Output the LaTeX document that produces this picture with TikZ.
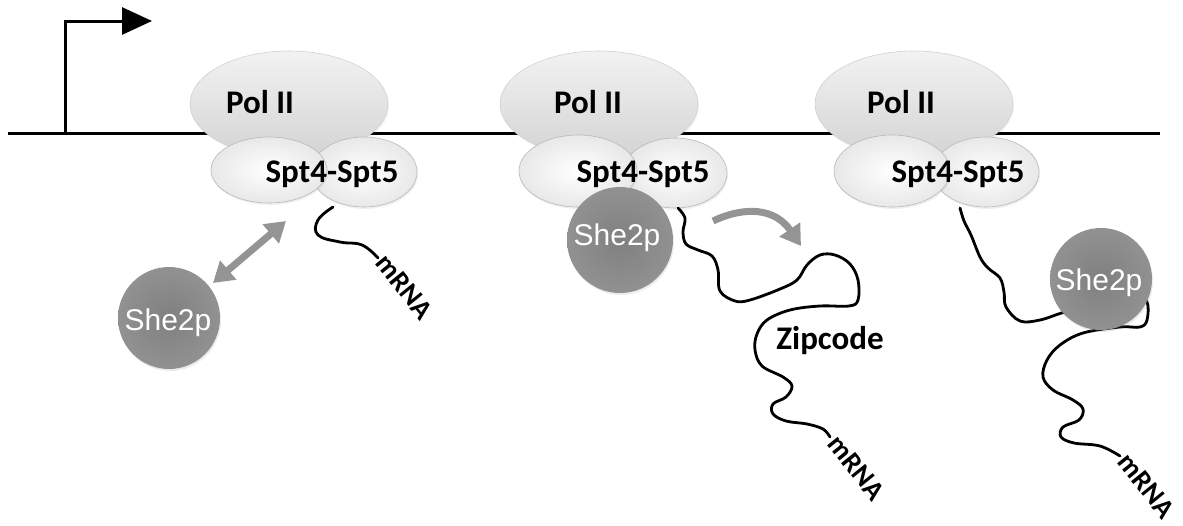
\documentclass[tikz,border=0pt]{standalone}
\usepackage{fontspec}
\setmainfont{Carlito}
\newfontfamily\helv{Liberation Sans}
\usetikzlibrary{arrows.meta,shapes.geometric,shadows}
\tikzset{gtip/.tip={Triangle[length=20pt,width=24pt]}}

\begin{document}
\begin{tikzpicture}[x=1pt,y=-1pt,
  dna/.style={line width=3pt, line join=miter},
  rna/.style={line width=2.8pt, line cap=round, line join=round},
  garrow/.style={draw=black!42, line width=7pt},
  pol/.style={ellipse, inner sep=0pt, minimum width=198pt, minimum height=106pt,
    top color=black!5, bottom color=black!17, draw=black!18, line width=0.6pt,
    drop shadow={opacity=0.1, shadow xshift=1pt, shadow yshift=-2pt}},
  spt/.style={ellipse, inner sep=0pt, inner color=white, outer color=black!9,
    draw=black!28, line width=0.6pt,
    drop shadow={opacity=0.12, shadow xshift=1pt, shadow yshift=-2pt}},
  she/.style={circle, inner sep=0pt, inner color=black!50, outer color=black!43,
    drop shadow={opacity=0.15, shadow xshift=1pt, shadow yshift=-2pt}},
  lbl/.style={font=\bfseries\fontsize{33}{34}\selectfont, inner sep=0pt, anchor=base},
  rnalbl/.style={font=\bfseries\fontsize{28}{29}\selectfont, inner sep=0pt, rotate=-51, anchor=west},
  shelbl/.style={font=\helv\fontsize{30}{31}\selectfont, text=white, inner sep=0pt, anchor=base},
  bigtip/.style={-{Triangle[length=30pt,width=27pt]}}
]
\useasboundingbox (0,0) rectangle (1183,525);

% DNA and promoter
\coordinate (d0) at (8,133);
\coordinate (d1) at (1160,133);
\draw[dna] (d0) -- (d1);
\coordinate (p0) at (65,133);
\coordinate (p1) at (152,21);
\draw[dna, bigtip] (p0) |- (p1);

% ---------- complex 1 ----------
\node[pol] (pol1) at (289,104) {};
\node[spt, minimum width=106pt, minimum height=70pt] (sptR1) at (364,172) {};
\node[spt, minimum width=116pt, minimum height=66pt] (sptL1) at (269,170) {};
\node[lbl] (pt1) at (260,113) {Pol II};
\node[lbl] (st1) at (332,182) {Spt4-Spt5};

\coordinate (r1s) at (333,207);
\coordinate (r1e) at (378,258);
\draw[rna] plot[smooth, tension=0.7] coordinates {(r1s) (318,220) (318,235) (340,242) (362,245) (r1e)};
\node[rnalbl] (m1) at (381,258) {mRNA};

\node[she, minimum size=102pt] (she1) at (169,318) {};
\node[shelbl] (sl1) at (168,330) {She2p};
\coordinate (a1) at (213,283);
\coordinate (a2) at (286,221);
\draw[garrow, gtip-gtip] (a1) -- (a2);

% ---------- complex 2 ----------
\node[pol] (pol2) at (599,104) {};
\node[spt, minimum width=104pt, minimum height=70pt] (sptR2) at (675,173) {};
\node[spt, minimum width=118pt, minimum height=72pt] (sptL2) at (578,171) {};
\node[lbl] (pt2) at (588,113) {Pol II};
\node[lbl] (st2) at (643,182) {Spt4-Spt5};

\coordinate (r2s) at (678,208);
\coordinate (r2e) at (830,437);
\draw[rna] plot[smooth, tension=0.6] coordinates {(r2s) (685,218) (683,232) (686,244)
  (698,250) (712,256) (718,270) (720,291) (735,301) (750,300) (780,289) (797,280)
  (807,265) (820,255) (835,255) (850,264) (858,280) (858,300) (849,306) (820,306)
  (790,310) (767,320) (757,334) (755,350) (762,366) (783,377) (792,386) (786,397)
  (773,404) (773,414) (786,421) (807,424) (823,429) (r2e)};
\node[lbl] (zc) at (830,349) {Zipcode};
\node[rnalbl] (m2) at (833,439) {mRNA};

\node[she, minimum size=106pt] (she2) at (620,240) {};
\node[shelbl] (sl2) at (617,245) {She2p};
\coordinate (c0) at (713,221);
\coordinate (c1) at (801,246);
\draw[garrow, -gtip] (c0) .. controls (745,206) and (775,208) .. (c1);

% ---------- complex 3 ----------
\node[pol] (pol3) at (914,104) {};
\node[spt, minimum width=106pt, minimum height=70pt] (sptR3) at (986,172) {};
\node[spt, minimum width=116pt, minimum height=72pt] (sptL3) at (892,171) {};
\node[lbl] (pt3) at (901,113) {Pol II};
\node[lbl] (st3) at (958,182) {Spt4-Spt5};

\coordinate (r3s) at (960,208);
\coordinate (r3e) at (1120,456);
\draw[rna] plot[smooth, tension=0.6] coordinates {(r3s) (964,221) (971,235) (980,257)
  (988,268) (1000,278) (1004,292) (1006,307) (1020,321) (1040,320) (1065,312)
  (1100,304) (1135,298) (1147,302) (1147,320) (1140,327) (1120,327) (1083,333)
  (1060,345) (1047,360) (1043,377) (1053,390) (1073,400) (1083,409) (1079,420)
  (1063,427) (1061,437) (1074,443) (1100,446) (r3e)};
\node[rnalbl] (m3) at (1123,457) {mRNA};

\node[she, minimum size=102pt] (she3) at (1101,279) {};
\node[shelbl] (sl3) at (1099,290) {She2p};
\end{tikzpicture}
\end{document}
